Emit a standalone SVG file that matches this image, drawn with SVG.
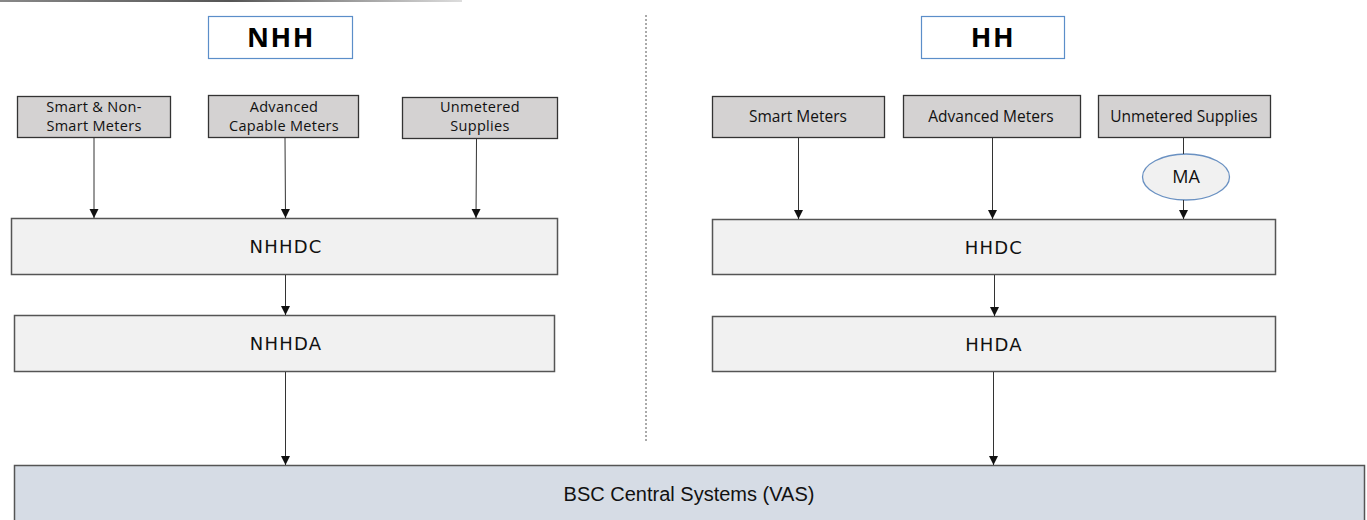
<svg xmlns="http://www.w3.org/2000/svg" width="1367" height="520" viewBox="0 0 1367 520">
<style>
.hdr{fill:#ffffff;stroke:#5b8ec9;stroke-width:1.2}
.hdrt{font-family:"Open Sans",sans-serif;font-weight:bold;font-size:27px;fill:#000;text-anchor:middle;letter-spacing:1.5px}
.src{fill:#d4d2d2;stroke:#333;stroke-width:1.3}
.srct{font-family:"Open Sans",sans-serif;font-size:15.5px;fill:#111;text-anchor:middle}
.srct2{font-family:"Open Sans",sans-serif;font-size:14.5px;fill:#111;text-anchor:middle;letter-spacing:0.3px}
.proc{fill:#f1f1f1;stroke:#555;stroke-width:1.5}
.proct{font-family:"DejaVu Sans",sans-serif;font-size:18px;fill:#111;text-anchor:middle;letter-spacing:1.2px}
.bsc{fill:#d6dce5;stroke:#555;stroke-width:1.5}
.bsct{font-family:"Liberation Sans",sans-serif;font-size:20px;fill:#111;text-anchor:middle}
.ma{fill:#f1f1f1;stroke:#6a91c2;stroke-width:1.3}
.mat{font-family:"Open Sans",sans-serif;font-size:18px;fill:#111;text-anchor:middle}
.con{stroke:#333;stroke-width:1;fill:none}
</style>
<defs>
<marker id="arr" markerWidth="10" markerHeight="10" refX="9" refY="5" orient="auto" markerUnits="userSpaceOnUse">
<path d="M0,0.5 L9,5 L0,9.5 z" fill="#111"/>
</marker>
<linearGradient id="topg" x1="0" x2="1" y1="0" y2="0">
<stop offset="0" stop-color="#888"/>
<stop offset="0.5" stop-color="#555"/>
<stop offset="1" stop-color="#ddd"/>
</linearGradient>
</defs>
<rect x="0" y="0" width="462" height="2" fill="url(#topg)"/>
<line x1="646" y1="15" x2="646" y2="443" stroke="#555" stroke-width="1" stroke-dasharray="2,2"/>

<g id="nhh-header"><rect class="hdr" x="208.5" y="16.5" width="144" height="42"/><text class="hdrt" x="281" y="47">NHH</text></g>
<g id="hh-header"><rect class="hdr" x="921.5" y="16.5" width="143" height="42"/><text class="hdrt" x="993" y="47">HH</text></g>

<g id="nhh-smart"><rect class="src" x="17.5" y="96.5" width="153" height="41"/><text class="srct2" x="94" y="112">Smart &amp; Non-</text><text class="srct2" x="94" y="131">Smart Meters</text></g>
<g id="nhh-advanced"><rect class="src" x="208.5" y="95.5" width="150" height="42"/><text class="srct2" x="284" y="112">Advanced</text><text class="srct2" x="284" y="131">Capable Meters</text></g>
<g id="nhh-unmetered"><rect class="src" x="402.5" y="97.5" width="155" height="41"/><text class="srct2" x="480" y="112">Unmetered</text><text class="srct2" x="480" y="131">Supplies</text></g>

<g id="hh-smart"><rect class="src" x="712.5" y="96.5" width="172" height="41"/><text class="srct" x="798" y="122">Smart Meters</text></g>
<g id="hh-advanced"><rect class="src" x="903.5" y="95.5" width="177" height="42"/><text class="srct" x="991" y="122">Advanced Meters</text></g>
<g id="hh-unmetered"><rect class="src" x="1098.5" y="95.5" width="172" height="42"/><text class="srct" x="1184" y="122">Unmetered Supplies</text></g>

<g id="ma"><ellipse class="ma" cx="1186" cy="177" rx="43.5" ry="23"/><text class="mat" x="1186" y="183">MA</text></g>

<g id="nhhdc"><rect class="proc" x="11.5" y="218.5" width="546" height="56"/><text class="proct" x="286" y="253">NHHDC</text></g>
<g id="nhhda"><rect class="proc" x="14.5" y="315.5" width="540" height="56"/><text class="proct" x="286" y="350">NHHDA</text></g>
<g id="hhdc"><rect class="proc" x="712.5" y="219.5" width="563" height="55"/><text class="proct" x="994" y="254">HHDC</text></g>
<g id="hhda"><rect class="proc" x="712.5" y="316.5" width="563" height="55"/><text class="proct" x="994" y="351">HHDA</text></g>

<g id="bsc"><rect class="bsc" x="14.5" y="465.5" width="1350" height="60"/><text class="bsct" x="689" y="501">BSC Central Systems (VAS)</text></g>

<g id="connectors">
<line class="con" x1="94" y1="138" x2="94" y2="218" marker-end="url(#arr)"/>
<line class="con" x1="285" y1="138" x2="285.5" y2="218" marker-end="url(#arr)"/>
<line class="con" x1="476.5" y1="139" x2="476" y2="218" marker-end="url(#arr)"/>
<line class="con" x1="285.5" y1="275" x2="285.5" y2="315" marker-end="url(#arr)"/>
<line class="con" x1="285.5" y1="372" x2="285.5" y2="465" marker-end="url(#arr)"/>
<line class="con" x1="798.5" y1="138" x2="798.5" y2="219" marker-end="url(#arr)"/>
<line class="con" x1="992.5" y1="138" x2="992.5" y2="219" marker-end="url(#arr)"/>
<line class="con" x1="1183.5" y1="138" x2="1183.5" y2="154"/>
<line class="con" x1="1183.5" y1="200" x2="1183.5" y2="219" marker-end="url(#arr)"/>
<line class="con" x1="994.5" y1="275" x2="994.5" y2="316" marker-end="url(#arr)"/>
<line class="con" x1="993.5" y1="372" x2="993.5" y2="465" marker-end="url(#arr)"/>
</g>
</svg>
